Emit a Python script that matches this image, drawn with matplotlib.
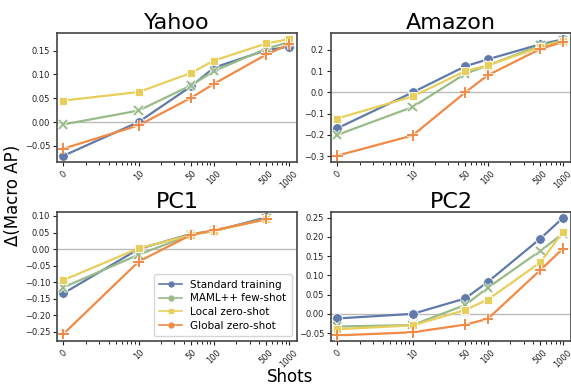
import numpy as np
import matplotlib
matplotlib.use('Agg')
import matplotlib.pyplot as plt
import matplotlib.patheffects as pe

# ─── Data ────────────────────────────────────────────────────────────────────
shots = [0, 10, 50, 100, 500, 1000]
methods = ['Standard training', 'MAML++ few-shot', 'Local zero-shot', 'Global zero-shot']

yahoo_std    = [-0.071, 0.000, 0.075, 0.114, 0.151, 0.158]
yahoo_maml   = [-0.005, 0.024, 0.077, 0.107, 0.154, 0.168]
yahoo_local  = [0.045, 0.063, 0.103, 0.129, 0.165, 0.174]
yahoo_global = [-0.056, -0.007, 0.051, 0.080, 0.142, 0.163]

amazon_std    = [-0.169, 0.000, 0.123, 0.156, 0.227, 0.250]
amazon_maml   = [-0.200, -0.069, 0.088, 0.127, 0.222, 0.245]
amazon_local  = [-0.123, -0.019, 0.100, 0.127, 0.214, 0.242]
amazon_global = [-0.298, -0.203, 0.000, 0.081, 0.205, 0.238]

pc1_shots  = [0, 10, 50, 100, 500]
pc1_std    = [-0.134, 0.000, 0.046, 0.054, 0.096]
pc1_maml   = [-0.116, -0.017, 0.043, 0.055, 0.092]
pc1_local  = [-0.094, 0.002, 0.043, 0.055, 0.090]
pc1_global = [-0.257, -0.038, 0.043, 0.057, 0.090]

pc2_std    = [-0.012, 0.000, 0.040, 0.083, 0.196, 0.250]
pc2_maml   = [-0.033, -0.029, 0.023, 0.068, 0.164, 0.209]
pc2_local  = [-0.040, -0.030, 0.010, 0.037, 0.134, 0.214]
pc2_global = [-0.056, -0.048, -0.028, -0.013, 0.114, 0.170]

# ─── Style ───────────────────────────────────────────────────────────────────
COLORS  = ['#5f7aab', '#98bb88', '#e8cf5c', '#f08a45']
MARKERS = ['o', 'x', 's', '+']
MSIZES  = [7, 6, 5.5, 7.5]
SPINE   = '#444444'

# minor ticks: log-like marks inside the linear part, then 2..9 per decade
minor = [10 * np.log10(k) for k in range(2, 10)] + \
        [k * 10 for k in range(2, 10)] + [k * 100 for k in range(2, 10)]

W, H = 571, 387
fig = plt.figure(figsize=(W / 100, H / 100), dpi=100)

def box(l, t, r, b):
    return [l / W, 1 - b / H, (r - l) / W, (b - t) / H]

panels = [
    ('Yahoo',  box(57, 33, 297, 162),  shots,     [yahoo_std, yahoo_maml, yahoo_local, yahoo_global],
     (-0.084, 0.187), [-0.05, 0.0, 0.05, 0.10, 0.15], '{:.2f}'),
    ('Amazon', box(331, 33, 571, 162), shots,     [amazon_std, amazon_maml, amazon_local, amazon_global],
     (-0.328, 0.28), [-0.3, -0.2, -0.1, 0.0, 0.1, 0.2], '{:.1f}'),
    ('PC1',    box(57, 212, 297, 341), pc1_shots, [pc1_std, pc1_maml, pc1_local, pc1_global],
     (-0.278, 0.112), [-0.25, -0.20, -0.15, -0.10, -0.05, 0.0, 0.05, 0.10], '{:.2f}'),
    ('PC2',    box(331, 212, 571, 341), shots,    [pc2_std, pc2_maml, pc2_local, pc2_global],
     (-0.0706, 0.265), [-0.05, 0.0, 0.05, 0.10, 0.15, 0.20, 0.25], '{:.2f}'),
]

for title, rect, xs, series, ylim, yticks, fmt in panels:
    ax = fig.add_axes(rect)
    ax.set_xscale('symlog', linthresh=10, linscale=0.9)
    ax.axhline(0, color='#bbbbbb', lw=1, zorder=1)
    for i, ys in enumerate(series):
        ax.plot(xs, ys, color=COLORS[i], lw=1.6, zorder=2 + i, label=methods[i])
        thin = MARKERS[i] in ('x', '+')
        ax.plot(xs, ys, ls='none', marker=MARKERS[i], ms=MSIZES[i], color=COLORS[i],
                mec=COLORS[i] if thin else 'white',
                mew=1.4 if thin else 0.6, zorder=2.5 + i,
                path_effects=[pe.withStroke(linewidth=3, foreground='white', alpha=0.7)]
                if thin else None)
    ax.set_xlim(-0.84, 1275)
    ax.set_ylim(*ylim)
    ax.set_xticks(shots)
    ax.set_xticks(minor, minor=True)
    ax.set_xticklabels([str(s) for s in shots], rotation=45, fontsize=6)
    ax.set_yticks(yticks)
    ax.set_yticklabels([fmt.format(v).replace('-', '\u2212') for v in yticks], fontsize=6)
    ax.tick_params(axis='both', length=3, width=0.8, pad=2, colors='#222222')
    ax.tick_params(axis='x', which='minor', length=2, width=0.6)
    for sp in ax.spines.values():
        sp.set_color(SPINE)
        sp.set_linewidth(1.2)
    ax.set_title(title, fontsize=16, pad=3)
    if title == 'PC1':
        handles = [plt.Line2D([], [], color=COLORS[i], lw=1.2, marker='o' if i != 2 else 's',
                              ms=3.5, mec=COLORS[i]) for i in range(4)]
        ax.legend(handles, methods, loc='lower right', fontsize=7.5, frameon=True,
                  handlelength=2.2, borderpad=0.5, labelspacing=0.35, fancybox=True)

fig.text(0.022, 0.496, '\u0394(Macro AP)', rotation=90, ha='center', va='center', fontsize=12)
fig.text(290 / W, 1 - 377 / H, 'Shots', ha='center', va='center', fontsize=12)

plt.savefig('out.png', dpi=100)
plt.close()
